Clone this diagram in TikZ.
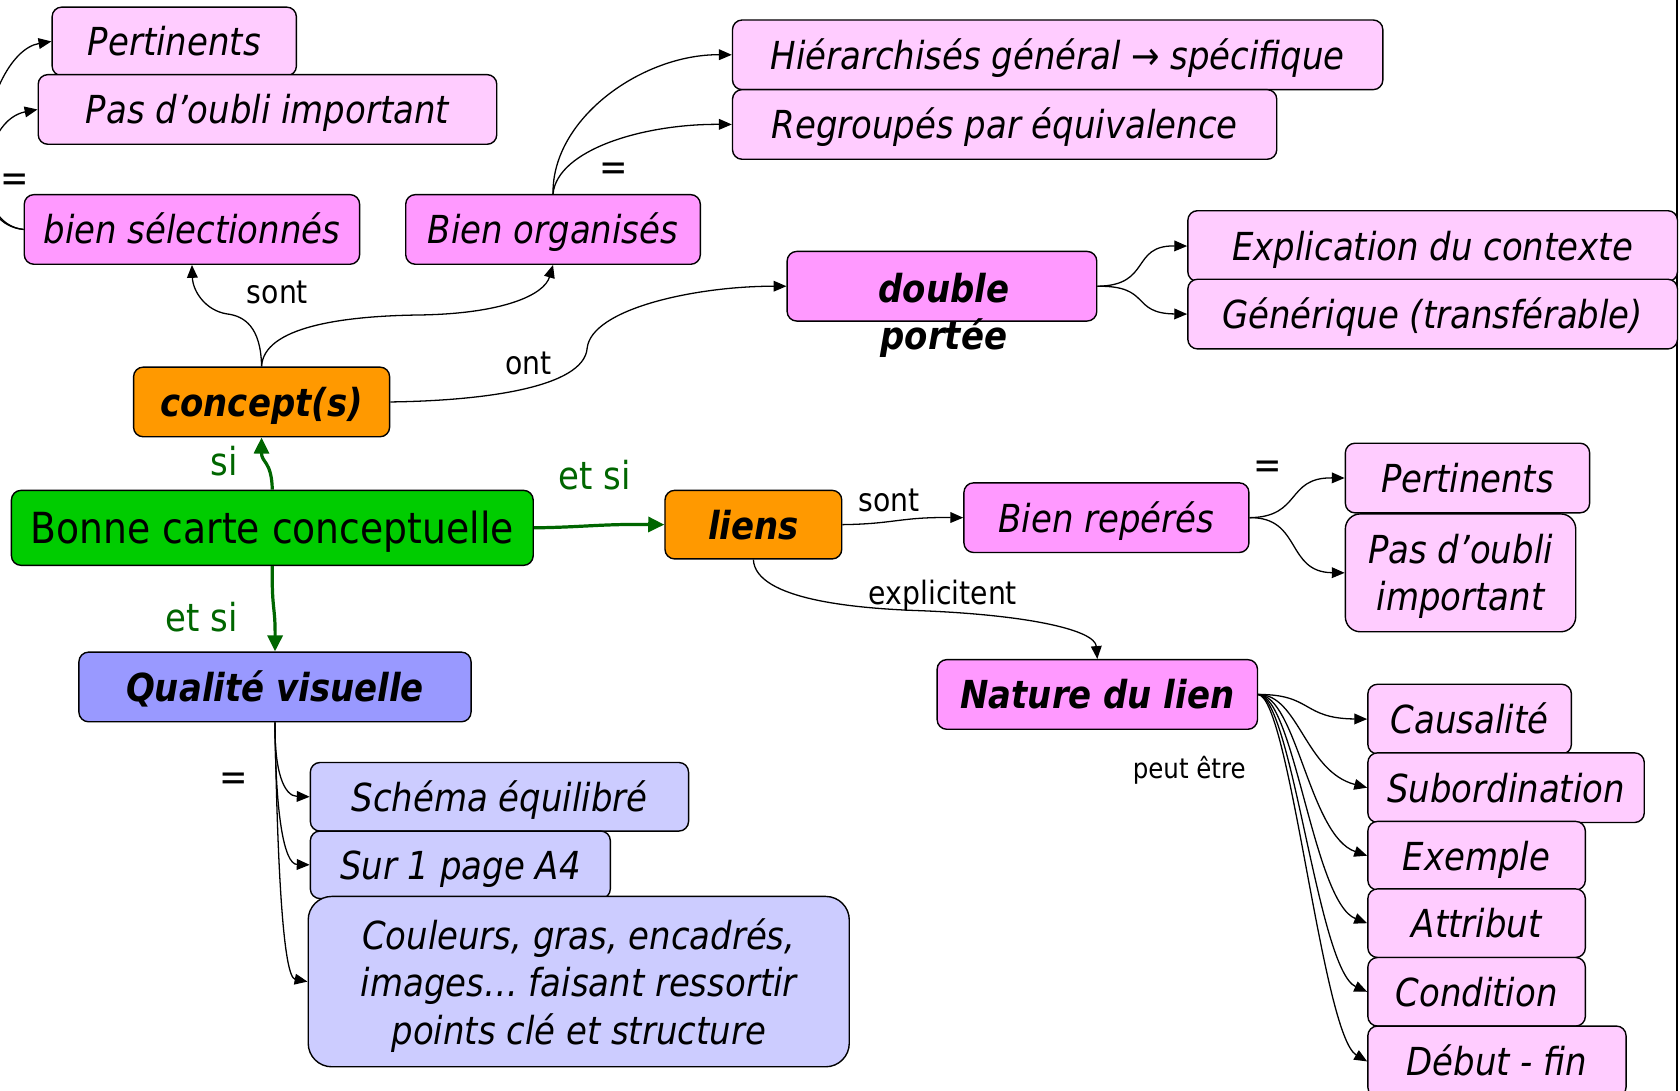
\documentclass[tikz,border=0pt]{standalone}
\usepackage{fontspec}
\setmainfont{DejaVu Sans}[FakeStretch=0.88]
\usetikzlibrary{arrows.meta}
\definecolor{pinklight}{HTML}{FFCCFF}
\definecolor{pinkmid}{HTML}{FF99FF}
\definecolor{orangebox}{HTML}{FF9900}
\definecolor{greenbox}{HTML}{00CC00}
\definecolor{bluebox}{HTML}{9999FF}
\definecolor{bluelight}{HTML}{CCCCFF}
\definecolor{darkgreen}{HTML}{006600}
\tikzset{
  box/.style={draw=black, line width=1.3pt, rounded corners=9pt, inner sep=0pt, anchor=north west},
  one/.style={text height=31pt, text depth=4pt},
  itx/.style={font=\fontsize{36}{44}\selectfont\itshape},
  bix/.style={font=\fontsize{36}{44}\selectfont\bfseries\itshape},
  link/.style={line width=1.2pt, -{Triangle[length=12pt,width=10pt]}},
  glink/.style={draw=darkgreen, line width=3pt, -{Triangle[length=15pt,width=14pt]}},
  lbl/.style={font=\fontsize{30}{36}\selectfont},
  smlbl/.style={font=\fontsize{26}{30}\selectfont},
  glbl/.style={font=\fontsize{36}{40}\selectfont, text=darkgreen},
  eq/.style={font=\fontsize{36}{40}\selectfont},
}
\begin{document}
\begin{tikzpicture}[x=1pt,y=-1pt]
\useasboundingbox (0,0) rectangle (1568,1018);
\clip (0,0) rectangle (1568,1018);
\fill[white] (0,0) rectangle (1568,1018);
\draw[line width=1.5pt] (1565,0) -- (1565,1018);

% --- concepts branch ---
\node[box, itx, one, fill=pinklight, minimum width=228pt, minimum height=64pt] (pertA) at (48,6) {Pertinents};
\node[box, itx, one, fill=pinklight, minimum width=428pt, minimum height=65pt] (oubliA) at (35,69) {Pas d’oubli important};
\node[box, itx, one, fill=pinkmid, minimum width=313pt, minimum height=65pt] (bs) at (22,181) {bien sélectionnés};
\node[box, itx, one, fill=pinkmid, minimum width=275pt, minimum height=65pt] (bo) at (378,181) {Bien organisés};
\node[box, itx, one, fill=pinklight, minimum width=607pt, minimum height=65pt] (hier) at (683,18) {Hiérarchisés général → spécifique};
\node[box, itx, one, fill=pinklight, minimum width=508pt, minimum height=65pt] (regr) at (683,83) {Regroupés par équivalence};
\node[box, fill=pinkmid, minimum width=289pt, minimum height=65pt] (dp) at (734,234) {};
\node[bix, align=center, inner sep=0pt] (dptext) at (881,294) {double\\portée};
\node[box, itx, one, fill=pinklight, minimum width=457pt, minimum height=66pt] (expl) at (1108,196) {Explication du contexte};
\node[box, itx, one, fill=pinklight, minimum width=457pt, minimum height=65pt] (gen) at (1108,260) {Générique (transférable)};
\node[box, bix, one, fill=orangebox, minimum width=239pt, minimum height=65pt] (concept) at (124,342) {concept(s)};

% --- root ---
\node[box, font=\fontsize{40}{48}\selectfont, text height=34pt, text depth=4pt, fill=greenbox, minimum width=487pt, minimum height=70pt] (bonne) at (10,457) {Bonne carte conceptuelle};

% --- links branch ---
\node[box, bix, one, fill=orangebox, minimum width=165pt, minimum height=64pt] (liens) at (620,457) {liens};
\node[box, itx, one, fill=pinkmid, minimum width=266pt, minimum height=65pt] (br) at (899,450) {Bien repérés};
\node[box, itx, one, fill=pinklight, minimum width=228pt, minimum height=65pt] (pertB) at (1255,413) {Pertinents};
\node[box, itx, align=center, fill=pinklight, minimum width=215pt, minimum height=110pt, rounded corners=14pt] (oubliB) at (1255,479) {\rule{0pt}{34pt}Pas d’oubli\\important};
\node[box, bix, one, fill=pinkmid, minimum width=299pt, minimum height=65pt] (nl) at (874,615) {Nature du lien};
\node[box, itx, one, fill=pinklight, minimum width=190pt, minimum height=65pt] (caus) at (1276,638) {Causalité};
\node[box, itx, one, fill=pinklight, minimum width=258pt, minimum height=65pt] (sub) at (1276,702) {Subordination};
\node[box, itx, one, fill=pinklight, minimum width=203pt, minimum height=64pt] (exem) at (1276,766) {Exemple};
\node[box, itx, one, fill=pinklight, minimum width=203pt, minimum height=64pt] (attr) at (1276,829) {Attribut};
\node[box, itx, one, fill=pinklight, minimum width=203pt, minimum height=64pt] (cond) at (1276,893) {Condition};
\node[box, itx, one, fill=pinklight, minimum width=241pt, minimum height=66pt] (debut) at (1276,957) {Début - fin};

% --- visual quality branch ---
\node[box, bix, one, fill=bluebox, minimum width=366pt, minimum height=65pt] (qual) at (73,608) {Qualité visuelle};
\node[box, itx, one, fill=bluelight, minimum width=353pt, minimum height=64pt] (schema) at (289,711) {Schéma équilibré};
\node[box, itx, one, fill=bluelight, minimum width=280pt, minimum height=63pt] (page) at (289,775) {Sur 1 page A4};
\node[box, itx, align=center, fill=bluelight, minimum width=505pt, minimum height=159pt, rounded corners=22pt] (coul) at (287,836) {\rule{0pt}{36pt}Couleurs, gras, encadrés,\\images… faisant ressortir\\points clé et structure};

% --- connectors: concepts ---
\draw[link] (concept.north) .. controls (243.5,305) and (228,295) .. (212,293) .. controls (192,290) and (180,272) .. (bs.south);
\draw[link] (concept.north) .. controls (246,305) and (320,295) .. (390,294) .. controls (470,293) and (508,275) .. (bo.south);
\draw[link] (concept.east) .. controls (450,374) and (545,362) .. (548,325) .. controls (552,288) and (650,267) .. (dp.west);
\draw[link] (dp.east) .. controls (1075,266.5) and (1055,229) .. (expl.west);
\draw[link] (dp.east) .. controls (1075,266.5) and (1055,292.5) .. (gen.west);
\draw[link] (bo.north) .. controls (515,110) and (600,50.5) .. (hier.west);
\draw[link] (bo.north) .. controls (520,140) and (600,115.5) .. (regr.west);
\draw[link] (bs.west) .. controls (0,212) and (-15,190) .. (-15,150) .. controls (-15,95) and (10,45) .. (pertA.west);
\draw[link] (bs.west) .. controls (0,212) and (-12,195) .. (-12,170) .. controls (-12,130) and (5,108) .. (oubliA.west);

% --- connectors: root ---
\draw[glink] (bonne.north) .. controls (253.5,430) and (244,432) .. (concept.south);
\draw[glink] (bonne.east) .. controls (545,492) and (560,489) .. (liens.west);
\draw[glink] (bonne.south) .. controls (253.5,570) and (257,565) .. (qual.north);

% --- connectors: links ---
\draw[link] (liens.east) .. controls (835,489) and (840,482.5) .. (br.west);
\draw[link] (br.east) .. controls (1215,482.5) and (1200,445.5) .. (pertB.west);
\draw[link] (br.east) .. controls (1215,482.5) and (1200,534) .. (oubliB.west);
\draw[link] (liens.south) .. controls (705,560) and (800,568) .. (860,570) .. controls (960,574) and (1022,588) .. (nl.north);
\draw[link] (nl.east) .. controls (1225,648) and (1215,670.5) .. (caus.west);
\draw[link] (nl.east) .. controls (1212,648) and (1218,720) .. (sub.west);
\draw[link] (nl.east) .. controls (1210,649) and (1222,780) .. (exem.west);
\draw[link] (nl.east) .. controls (1208,650) and (1226,842) .. (attr.west);
\draw[link] (nl.east) .. controls (1206,651) and (1230,905) .. (cond.west);
\draw[link] (nl.east) .. controls (1204,652) and (1234,966) .. (debut.west);

% --- connectors: visual quality ---
\draw[link] (qual.south) .. controls (256,720) and (265,743) .. (schema.west);
\draw[link] (qual.south) .. controls (257,760) and (265,806.5) .. (page.west);
\draw[link] (qual.south) .. controls (259,820) and (265,912) .. (coul.west);

% --- connector labels ---
\node[lbl] (lsont1) at (259,273) {sont};
\node[lbl] (lont) at (493,339) {ont};
\node[eq] (eq1) at (14,171) {=};
\node[eq] (eq2) at (573,160) {=};
\node[glbl] (lsi) at (209,430) {si};
\node[glbl] (letsi1) at (555,443) {et si};
\node[glbl] (letsi2) at (188,576) {et si};
\node[lbl] (lsont2) at (830,467) {sont};
\node[eq] (eq3) at (1183,438) {=};
\node[lbl] (lexpl) at (880,556) {explicitent};
\node[smlbl] (lpeut) at (1110,719) {peut être};
\node[eq] (eq4) at (218,730) {=};
\end{tikzpicture}
\end{document}
